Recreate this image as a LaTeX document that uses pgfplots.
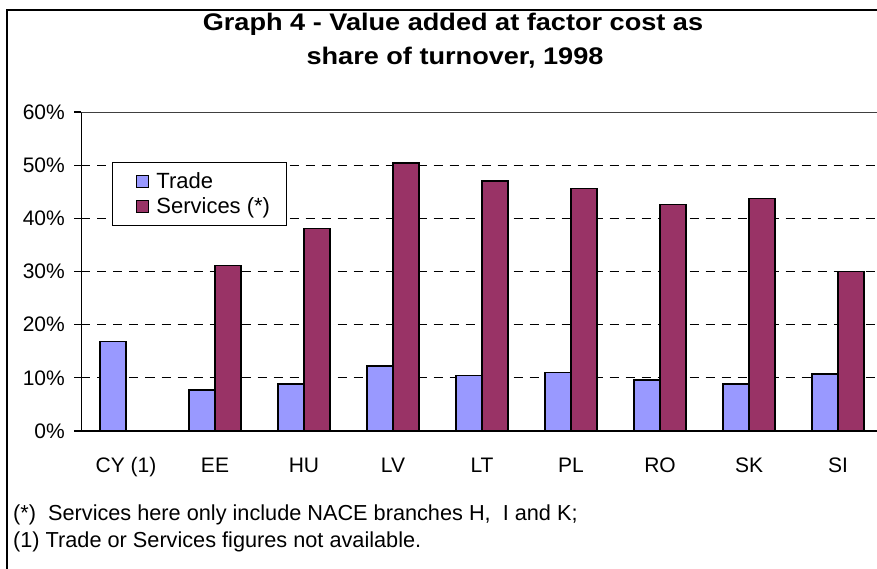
\documentclass[border=0pt]{standalone}
\usepackage{pgfplots}
\pgfplotsset{compat=1.18}
\usepackage{fontspec}
\setmainfont{Liberation Sans}
\definecolor{trade}{HTML}{9999FF}
\definecolor{serv}{HTML}{993366}
\newcommand{\tf}{\fontsize{21}{25}\selectfont}
\newcommand{\lf}{\fontsize{22}{26}\selectfont}
\newcommand{\ff}{\fontsize{21.7}{26}\selectfont}
\begin{document}
\begin{tikzpicture}[x=1pt,y=1pt]
\useasboundingbox (-81.5,-137) rectangle (795.5,431);
\draw[line width=2pt] (-74.5,421) rectangle (900,-200);
\begin{axis}[
  at={(0,0)}, anchor=south west,
  scale only axis, width=801pt, height=319pt,
  ybar=0pt, bar width=26pt,
  xmin=-0.5, xmax=8.5, ymin=0, ymax=60,
  xtick=data, xtick style={draw=none},
  xticklabels={CY (1),EE,HU,LV,LT,PL,RO,SK,SI},
  xticklabel style={font=\tf, anchor=base, inner sep=0pt, yshift=-34pt},
  ytick={0,10,20,30,40,50,60},
  yticklabels={0\%,10\%,20\%,30\%,40\%,50\%,60\%},
  yticklabel style={font=\tf, anchor=east, inner sep=0pt, xshift=-9.5pt},
  ytick style={line width=1.2pt, black},
  tick align=outside, major tick length=7pt,
  ytick pos=left,
  ymajorgrids, 
  major grid style={black, line width=1pt, dash pattern=on 9pt off 7pt},
  axis line style={line width=1.5pt},
  axis x line*=bottom, axis y line*=left,
  legend cell align=left,
  legend style={at={(30.5pt,269pt)}, anchor=north west, draw=black, line width=0.8pt,
    font=\lf, inner xsep=14pt, inner ysep=8pt, row sep=4pt},
  legend image code/.code={\path[draw=none,fill=none] (0pt,0pt) -- (28pt,0pt); \draw[#1,line width=1.2pt] (10pt,-6pt) rectangle (22pt,6pt);},
]
\addplot[fill=trade, draw=black, line width=1.5pt] coordinates {
 (0,16.8) (1,7.7) (2,8.8) (3,12.2) (4,10.4) (5,11.0) (6,9.6) (7,8.8) (8,10.7)};
\addplot[fill=serv, draw=black, line width=1.5pt] coordinates {
 (1,31.1) (2,38.1) (3,50.4) (4,47.0) (5,45.6) (6,42.6) (7,43.7) (8,30.0)};
\legend{Trade,Services (*)}
\draw[line width=1.5pt, black!75] (rel axis cs:0,1) -- (rel axis cs:1,1);
\end{axis}
\node[font=\bfseries\fontsize{24}{28}\selectfont, anchor=base, xscale=1.13] at ({453-81.5},{431-31}) {Graph 4 - Value added at factor cost as};
\node[font=\bfseries\fontsize{24}{28}\selectfont, anchor=base, xscale=1.13] at ({455-81.5},{431-65}) {share of turnover, 1998};
\node[font=\ff, anchor=base west, inner sep=0pt] at ({13-81.5},{431-520}) {(*)\ \ Services here only include NACE branches H,\ \ I and K;};
\node[font=\ff, anchor=base west, inner sep=0pt] at ({13-81.5},{431-547}) {(1) Trade or Services figures not available.};
\end{tikzpicture}
\end{document}
